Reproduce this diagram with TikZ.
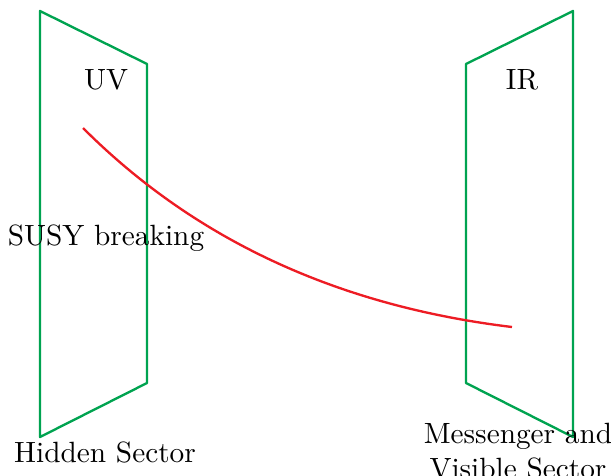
\documentclass[tikz,border=0pt]{standalone}
\begin{document}
\begin{tikzpicture}[x=0.012cm,y=-0.012cm,
  plane/.style={draw=planegreen,line width=0.8pt,line join=round},
  flow/.style={draw=flowred,line width=0.8pt},
  lbl/.style={inner sep=0pt,font=\normalsize}]
\definecolor{planegreen}{RGB}{0,163,80}
\definecolor{flowred}{RGB}{237,28,36}
\useasboundingbox (0,0) rectangle (611,475);
% left plane
\coordinate (l1) at (40,11);
\coordinate (l2) at (147,64);
\coordinate (l3) at (147,383);
\coordinate (l4) at (40,437);
\draw[plane] (l1) -- (l2) -- (l3) -- (l4) -- cycle;
% right plane
\coordinate (r1) at (573,11);
\coordinate (r2) at (466,64);
\coordinate (r3) at (466,383);
\coordinate (r4) at (573,437);
\draw[plane] (r1) -- (r2) -- (r3) -- (r4) -- cycle;
% curve
\coordinate (cs) at (83,128);
\coordinate (ce) at (512,327);
\draw[flow] (cs) .. controls (195,240) and (338,306) .. (ce);
% labels
\node[lbl] (uv) at (106,80) {UV};
\node[lbl] (ir) at (522,80) {IR};
\node[lbl] (susy) at (106,238) {SUSY breaking};
\node[lbl] (hid) at (105,452) {Hidden Sector};
\node[lbl,align=center] (mes) at (518,451) {Messenger and\\Visible Sector};
\end{tikzpicture}
\end{document}
